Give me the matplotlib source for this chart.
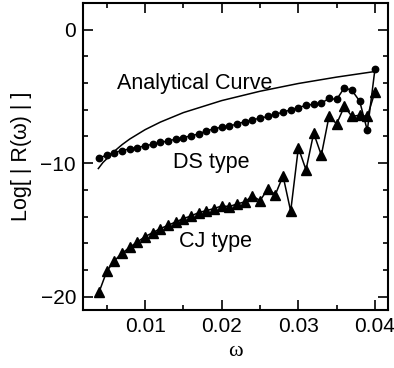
import matplotlib
matplotlib.use("Agg")
import matplotlib.pyplot as plt
from matplotlib.ticker import MultipleLocator

plt.rcParams['font.family'] = ['Liberation Sans', 'DejaVu Sans']

omega = [0.004, 0.005, 0.006, 0.007, 0.008, 0.009, 0.010, 0.011, 0.012, 0.013,
         0.014, 0.015, 0.016, 0.017, 0.018, 0.019, 0.020, 0.021, 0.022, 0.023,
         0.024, 0.025, 0.026, 0.027, 0.028, 0.029, 0.030, 0.031, 0.032, 0.033,
         0.034, 0.035, 0.036, 0.037, 0.038, 0.039, 0.040]

ds_type = [-9.63, -9.38, -9.20, -9.05, -8.93, -8.83, -8.70, -8.58, -8.45, -8.33,
           -8.20, -8.08, -7.95, -7.81, -7.58, -7.43, -7.30, -7.20, -7.08, -6.88,
           -6.75, -6.63, -6.50, -6.33, -6.18, -6.00, -5.83, -5.67, -5.58, -5.50,
           -5.15, -5.22, -4.35, -4.55, -5.35, -7.55, -2.93]

cj_type = [-19.65, -18.10, -17.30, -16.75, -16.30, -15.90, -15.50, -15.20, -14.90, -14.65,
           -14.40, -14.15, -13.95, -13.70, -13.55, -13.40, -13.20, -13.25, -13.05, -12.90,
           -12.45, -12.80, -11.95, -12.35, -10.95, -13.60, -8.85, -10.50, -7.75, -9.40,
           -6.50, -7.05, -5.75, -6.50, -6.40, -6.50, -4.65]

analytic_omega = [0.0039, 0.0045, 0.005, 0.006, 0.007, 0.008, 0.010, 0.012, 0.015,
                  0.020, 0.025, 0.030, 0.035, 0.040]
analytic_value = [-10.40, -9.95, -9.67, -9.10, -8.61, -8.19, -7.49, -6.92, -6.21,
                  -5.31, -4.61, -4.03, -3.55, -3.13]

xticks = [0.01, 0.02, 0.03, 0.04]
xticklabels = ['0.01', '0.02', '0.03', '0.04']
yticks = [0, -10, -20]
yticklabels = ['0', '\u221210', '\u221220']

fig = plt.figure(figsize=(3.94, 3.68), dpi=100)
ax = fig.add_axes([0.2107, 0.1576, 0.7741, 0.8342])

ax.plot(analytic_omega, analytic_value, color='black', lw=1.1)
ax.plot(omega, ds_type, color='black', lw=1.1, marker='o', ms=4.6)
ax.plot(omega, cj_type, color='black', lw=1.1, marker='^', ms=7)

ax.set_xlim(0.0019, 0.0417)
ax.set_ylim(-21, 2)

ax.set_xticks(xticks)
ax.set_xticklabels(xticklabels)
ax.set_yticks(yticks)
ax.set_yticklabels(yticklabels)
ax.xaxis.set_minor_locator(MultipleLocator(0.005))
ax.yaxis.set_minor_locator(MultipleLocator(2))

ax.tick_params(which='both', direction='in', top=True, right=True, width=1.2,
               labelsize=15)
ax.tick_params(which='major', length=7, pad=5)
ax.tick_params(which='minor', length=3.5)
for s in ax.spines.values():
    s.set_linewidth(1.5)

ax.text(0.0165, -4.0, 'Analytical Curve', fontsize=15.5, ha='center', va='center')
ax.text(0.0186, -9.95, 'DS type', fontsize=15.5, ha='center', va='center')
ax.text(0.0192, -15.9, 'CJ type', fontsize=15.5, ha='center', va='center')

ax.set_xlabel('\u03c9', fontsize=16, family=['Liberation Serif', 'DejaVu Serif'], labelpad=4)
ax.set_ylabel('Log[ | R(\u03c9) | ]', fontsize=15.5, labelpad=6)

fig.savefig('out.png', dpi=100)
